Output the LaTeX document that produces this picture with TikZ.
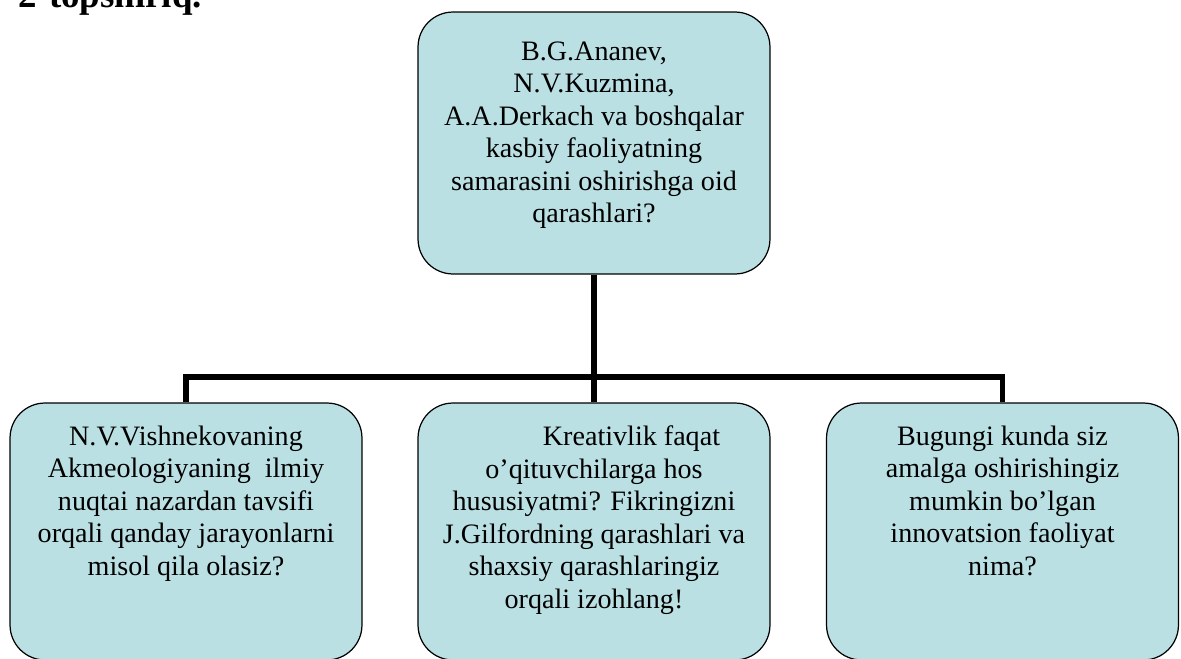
\documentclass[tikz,border=0pt]{standalone}
\usepackage{fontspec}
\setmainfont{Liberation Serif}
\usetikzlibrary{positioning}
\definecolor{cardfill}{RGB}{186,224,228}
\tikzset{
  card/.style={draw,line width=0.7pt,fill=cardfill,rounded corners=0.7cm,minimum width=7.04cm},
  qtext/.style={align=center,inner sep=0pt,font=\fontsize{16}{18.5}\selectfont},
  link/.style={line width=3.2pt}
}
\begin{document}
\begin{tikzpicture}[x=0.02cm,y=-0.02cm]
            \useasboundingbox (0,0) rectangle (1181,659);
            \clip (0,0) rectangle (1181,659);
            \node[anchor=base west,inner sep=0pt,font=\fontsize{21}{24}\selectfont\bfseries] (title) at (18,8) {2-topshiriq.};
            \node[card,minimum height=5.24cm] (top) at (594,143) {};
            \node[card,minimum height=5.14cm] (left) at (186,531.5) {};
            \node[card,minimum height=5.14cm] (mid) at (594,531.5) {};
            \node[card,minimum height=5.14cm] (right) at (1002.5,531.5) {};
            \coordinate (hub) at (594,377);
            \node[qtext,below=0.6cm of top.north] (toptext) {B.G.Ananev,\\ N.V.Kuzmina,\\ A.A.Derkach va boshqalar\\ kasbiy faoliyatning\\ samarasini oshirishga oid\\ qarashlari?};
            \node[qtext,below=0.46cm of left.north] (lefttext) {N.V.Vishnekovaning\\ Akmeologiyaning\ \ ilmiy\\ nuqtai nazardan tavsifi\\ orqali qanday jarayonlarni\\ misol qila olasiz?};
            \node[qtext,below=0.46cm of mid.north] (midtext) {\hspace*{1.5cm}Kreativlik faqat\\ o’qituvchilarga hos\\ hususiyatmi? Fikringizni\\ J.Gilfordning qarashlari va\\ shaxsiy qarashlaringiz\\ orqali izohlang!};
            \node[qtext,below=0.46cm of right.north] (righttext) {Bugungi kunda siz\\ amalga oshirishingiz\\ mumkin bo’lgan\\ innovatsion faoliyat\\ nima?};
            \draw[link] (top.south) -- (mid.north);
            \draw[link] (left.north) -- (left.north |- hub) -- (right.north |- hub) -- (right.north);
          \end{tikzpicture}
\end{document}
